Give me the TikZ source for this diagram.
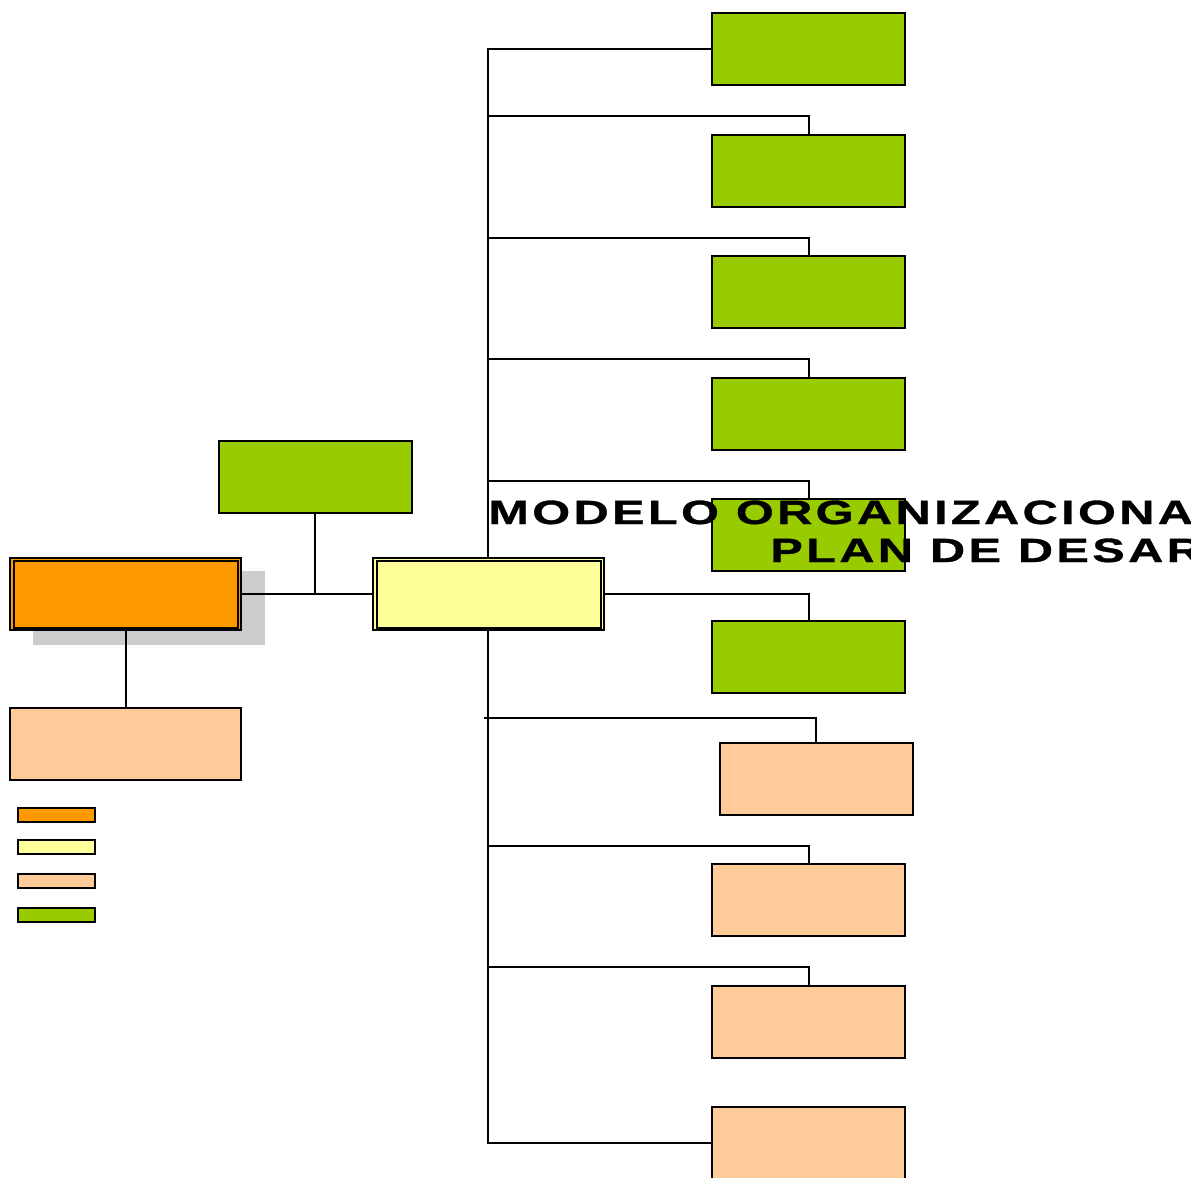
\documentclass[tikz,border=0pt]{standalone}
\usepackage{fontspec}
\setmainfont{Liberation Sans}
\newfontfamily\titlefont[FakeStretch=1.45,LetterSpace=10,FakeBold=1]{Liberation Sans Bold}
\definecolor{cgreen}{HTML}{99CC00}
\definecolor{corange}{HTML}{FF9900}
\definecolor{cyellow}{HTML}{FFFF99}
\definecolor{cpeach}{HTML}{FFCC99}
\definecolor{cshadow}{HTML}{CCCCCC}
\tikzset{
  bx/.style={draw=black, line width=1pt, inner sep=0pt, minimum width=96.5pt, minimum height=36pt},
  wbx/.style={bx, minimum width=115.5pt},
  gbox/.style={bx, fill=cgreen},
  pbox/.style={bx, fill=cpeach},
  lbox/.style={draw=black, line width=1pt, inner sep=0pt, minimum width=38.5pt, minimum height=7pt},
  conn/.style={draw=black, line width=1pt},
  titletext/.style={font=\titlefont\fontsize{16.8}{20}\selectfont, inner sep=0pt, anchor=base west}
}
\begin{document}
\begin{tikzpicture}[x=0.5pt,y=-0.5pt]
\useasboundingbox (0,0) rectangle (1191,1178);
\clip (0,0) rectangle (1191,1178);
\fill[white] (0,0) rectangle (1191,1178);
% trunk junctions
\coordinate (j2) at (488,116);
\coordinate (j3) at (488,238);
\coordinate (j4) at (488,359);
\coordinate (j5) at (488,481);
\coordinate (j7) at (484,718);
\coordinate (j8) at (488,846);
\coordinate (j9) at (488,967);
% right column boxes
\node[gbox] (g1) at (808.5,49) {};
\node[gbox] (g2) at (808.5,170.5) {};
\node[gbox] (g3) at (808.5,292) {};
\node[gbox] (g4) at (808.5,413.5) {};
\node[gbox] (g5) at (808.5,535) {};
\node[gbox] (g6) at (808.5,657) {};
\node[pbox] (p1) at (816,778.5) {};
\node[pbox] (p2) at (808.5,900) {};
\node[pbox] (p3) at (808.5,1022) {};
\node[pbox] (p4) at (808.5,1143) {};
% left side
\fill[cshadow] (33,571) rectangle (265,645);
\node[wbx, fill=corange] (o) at (125.5,593.5) {};
\node[wbx, fill=cyellow] (y) at (488.5,593.5) {};
\node[gbox] (gt) at (315,477) {};
\node[wbx, fill=cpeach] (pl) at (125.5,744) {};
% connectors
\draw[conn] (g1.west) -- (488,49) coordinate (t1) -- (t1 |- p4.west) coordinate (t10) -- (p4.west);
\draw[conn] (j2) -| (g2.north);
\draw[conn] (j3) -| (g3.north);
\draw[conn] (j4) -| (g4.north);
\draw[conn] (j5) -| (g5.north);
\draw[conn] (y.east) -| (g6.north);
\draw[conn] (j7) -| (p1.north);
\draw[conn] (j8) -| (p2.north);
\draw[conn] (j9) -| (p3.north);
\draw[conn] (o.east) -- (y.west);
\draw[conn] (gt.south) -- (gt.south |- o.east);
\draw[conn] (o.south) -- (pl.north);
% redraw boxes above lines
\node[wbx, fill=cyellow] at (y) {};
\draw[line width=1pt] ([xshift=2.5pt,yshift=-2pt]o.north west) rectangle ([xshift=-2pt,yshift=1.5pt]o.south east);
\draw[line width=1pt] ([xshift=2.5pt,yshift=-2pt]y.north west) rectangle ([xshift=-2pt,yshift=1.5pt]y.south east);
% legend
\node[lbox, fill=corange] (l1) at (56.5,815) {};
\node[lbox, fill=cyellow] (l2) at (56.5,846.5) {};
\node[lbox, fill=cpeach] (l3) at (56.5,880.5) {};
\node[lbox, fill=cgreen] (l4) at (56.5,914.5) {};
% title
\node[titletext] (t1a) at (488,524) {MODELO ORGANIZACIONA};
\node[titletext] (t2a) at (770,562) {PLAN DE DESAR};
\end{tikzpicture}
\end{document}
